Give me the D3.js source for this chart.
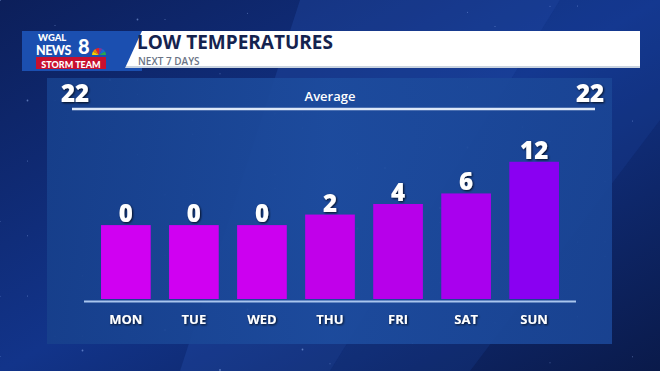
<!DOCTYPE html>
<html>
<head>
<meta charset="utf-8">
<script src="https://cdn.jsdelivr.net/npm/d3@7"></script>
<style>
  html, body { margin: 0; padding: 0; background: #0a1a48; }
  svg { display: block; }
</style>
</head>
<body>
<svg width="660" height="371"></svg>
<script>
// Datos del gráfico
const days = ['MON', 'TUE', 'WED', 'THU', 'FRI', 'SAT', 'SUN'];
const lows = [0, 0, 0, 2, 4, 6, 12];
const barColors = ['#d000f2', '#d000f2', '#cc00f0', '#c100ea', '#b700ea', '#a900ee', '#8a00f2'];
const average = 22;
const title = 'LOW TEMPERATURES';
const subtitle = 'NEXT 7 DAYS';

const svg = d3.select('svg');
const width = +svg.attr('width');
const height = +svg.attr('height');
const defs = svg.append('defs');

// Fondo
const bg = defs.append('linearGradient').attr('id', 'bg')
  .attr('x1', 0).attr('y1', 0).attr('x2', 1).attr('y2', 1);
bg.append('stop').attr('offset', 0).attr('stop-color', '#0c1f5a');
bg.append('stop').attr('offset', 0.5).attr('stop-color', '#12348a');
bg.append('stop').attr('offset', 1).attr('stop-color', '#0a1a4a');
svg.append('rect').attr('width', width).attr('height', height).attr('fill', 'url(#bg)');

// Rayos de luz diagonales
svg.append('polygon').attr('points', '300,0 560,0 330,371 180,371')
  .attr('fill', '#2a5cc0').attr('opacity', 0.25);
svg.append('polygon').attr('points', '560,0 660,0 660,120 470,371 330,371')
  .attr('fill', '#1f4aa8').attr('opacity', 0.2);

// estrellas (patrón fijo)
const stars = d3.range(90).map(i => [(i * 137.5) % width, (i * 71.3 + (i % 7) * 23) % height]);
svg.append('g').selectAll('circle').data(stars).join('circle')
  .attr('cx', d => d[0]).attr('cy', d => d[1])
  .attr('r', (d, i) => i % 5 === 0 ? 0.9 : 0.5)
  .attr('fill', '#9fc0ff').attr('opacity', 0.5);

// Panel del gráfico
const panel = defs.append('linearGradient').attr('id', 'panel')
  .attr('x1', 0).attr('y1', 0).attr('x2', 1).attr('y2', 0);
panel.append('stop').attr('offset', 0).attr('stop-color', '#17408c');
panel.append('stop').attr('offset', 0.5).attr('stop-color', '#1d4c9e');
panel.append('stop').attr('offset', 1).attr('stop-color', '#1a4595');
svg.append('rect').attr('x', 47).attr('y', 78).attr('width', 565).attr('height', 266)
  .attr('fill', 'url(#panel)').attr('opacity', 0.92);

// Cabecera
svg.append('rect').attr('x', 22).attr('y', 31).attr('width', 120).attr('height', 40).attr('fill', '#1b4fb0');
svg.append('polygon').attr('points', '142,31 640,31 640,66 126,66')
  .attr('fill', '#ffffff');
svg.append('polygon').attr('points', '126,66 640,66 640,68 125,68').attr('fill', '#c9d3e0');

// Logo
svg.append('rect').attr('x', 36).attr('y', 57).attr('width', 70).attr('height', 12).attr('fill', '#c8102e');
const peacock = ['#f5d000', '#f08000', '#e0202a', '#7a3a9a', '#1a6ad0', '#2aa84a'];
svg.append('g').selectAll('path').data(peacock).join('path')
  .attr('d', (d, i) => {
    const a0 = Math.PI * (1 + i / 6), a1 = Math.PI * (1 + (i + 1) / 6);
    const cx = 99, cy = 55, r = 7;
    return `M${cx},${cy}L${cx + r * Math.cos(a0)},${cy + r * Math.sin(a0)}A${r},${r} 0 0 1 ${cx + r * Math.cos(a1)},${cy + r * Math.sin(a1)}Z`;
  })
  .attr('fill', d => d);
const logo = svg.append('g').attr('font-family', 'Lato, "Open Sans", sans-serif').attr('font-weight', 900).attr('fill', '#fff');
logo.append('text').attr('x', 38).attr('y', 41).attr('font-size', 9.5).text('WGAL');
logo.append('text').attr('x', 36).attr('y', 55).attr('font-size', 12.5).attr('letter-spacing', -0.5).text('NEWS');
logo.append('text').attr('x', 78).attr('y', 54).attr('font-size', 20).text('8');
logo.append('text').attr('x', 71).attr('y', 67.5).attr('text-anchor', 'middle').attr('font-size', 9).text('STORM TEAM');

svg.append('text').attr('x', 137).attr('y', 49)
  .attr('font-family', '"Open Sans", sans-serif').attr('font-weight', 700).attr('font-size', 19)
  .attr('fill', '#15234f').text(title);
svg.append('text').attr('x', 138).attr('y', 64.5)
  .attr('font-family', '"Open Sans", sans-serif').attr('font-weight', 600).attr('font-size', 10)
  .attr('fill', '#6a7385').text(subtitle);

// Escalas
const x = d3.scaleBand().domain(days).range([84, 576]).paddingInner(0.27).paddingOuter(0.25);
const y = d3.scaleLinear().domain([-14, average]).range([299, 109]);

const shadow = defs.append('filter').attr('id', 'shadow');
shadow.append('feDropShadow').attr('dx', 1).attr('dy', 1).attr('stdDeviation', 0.8)
  .attr('flood-color', '#000').attr('flood-opacity', 0.8);

// Línea promedio
svg.append('line').attr('x1', 72).attr('x2', 595).attr('y1', y(average)).attr('y2', y(average))
  .attr('stroke', '#dde8f8').attr('stroke-width', 2.5);
svg.append('text').attr('x', 330).attr('y', 101).attr('text-anchor', 'middle')
  .attr('font-family', '"Open Sans", sans-serif').attr('font-size', 13).attr('font-weight', 600)
  .attr('fill', '#fff').text('Average');
[[61, 'start'], [604, 'end']].forEach(([px, anchor]) => {
  svg.append('text').attr('x', px).attr('y', 102).attr('text-anchor', anchor)
    .attr('font-family', '"Open Sans", sans-serif').attr('font-size', 24).attr('font-weight', 800)
    .attr('fill', '#fff').attr('filter', 'url(#shadow)').text(average);
});

// Barras
svg.append('g').selectAll('rect').data(lows).join('rect')
  .attr('x', (d, i) => x(days[i]))
  .attr('width', x.bandwidth())
  .attr('y', d => y(d))
  .attr('height', d => 299 - y(d))
  .attr('fill', (d, i) => barColors[i]);

// Etiquetas de valores
svg.append('g').selectAll('text').data(lows).join('text')
  .attr('x', (d, i) => x(days[i]) + x.bandwidth() / 2)
  .attr('y', d => y(d) - 3)
  .attr('text-anchor', 'middle')
  .attr('font-family', '"Open Sans", sans-serif').attr('font-size', 24).attr('font-weight', 800)
  .attr('fill', '#fff').attr('filter', 'url(#shadow)')
  .text(d => d);

// Eje inferior
svg.append('line').attr('x1', 84).attr('x2', 576).attr('y1', 301.5).attr('y2', 301.5)
  .attr('stroke', '#a9c6ee').attr('stroke-width', 2);
svg.append('g').selectAll('text').data(days).join('text')
  .attr('x', d => x(d) + x.bandwidth() / 2)
  .attr('y', 324)
  .attr('text-anchor', 'middle')
  .attr('font-family', '"Open Sans", sans-serif').attr('font-size', 13).attr('font-weight', 700)
  .attr('fill', '#fff').attr('filter', 'url(#shadow)')
  .text(d => d);
</script>
</body>
</html>
